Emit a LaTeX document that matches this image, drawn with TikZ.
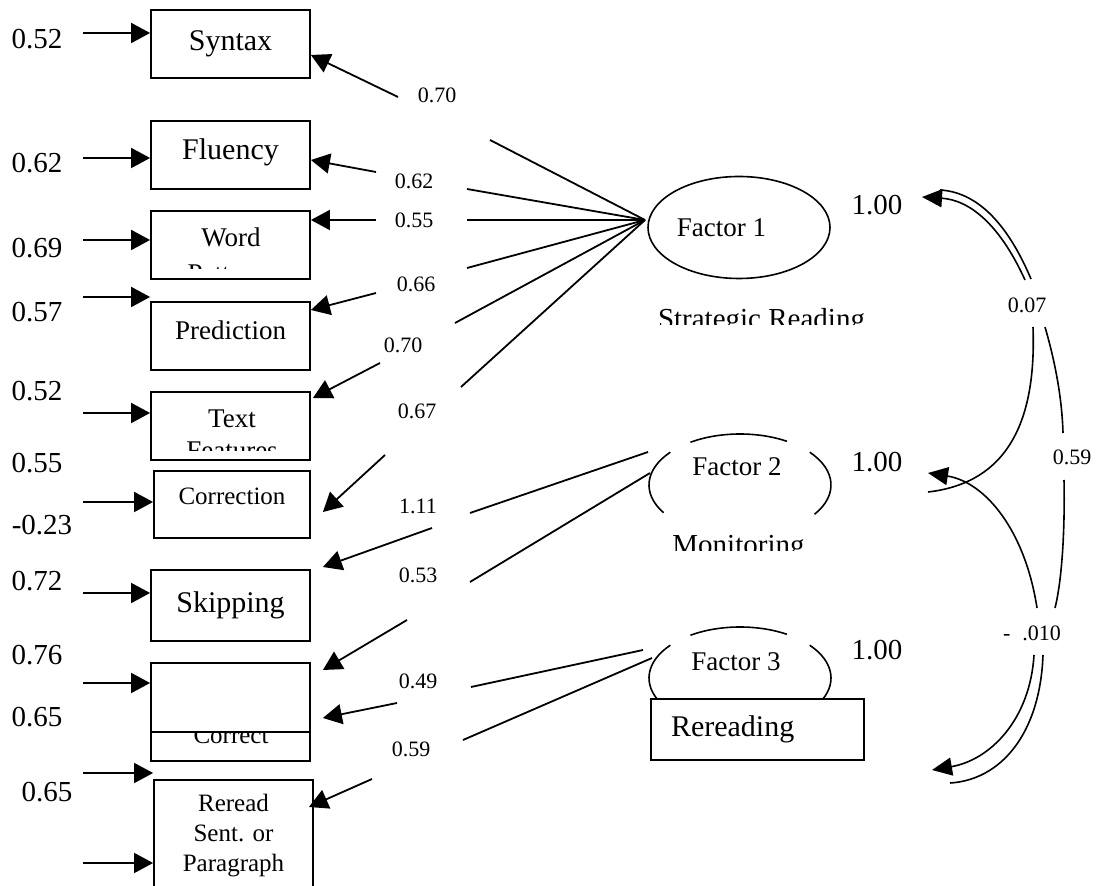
\documentclass[tikz,border=0pt]{standalone}
\usepackage{fontspec}
\setmainfont{Liberation Serif}
\usetikzlibrary{arrows.meta,shapes.geometric}

\tikzstyle{obs} = [rectangle, draw=black, line width=0.9pt, minimum width=79.5pt, minimum height=34pt, inner sep=0pt, align=center, font=\fontsize{15}{18}\selectfont]
\tikzstyle{lat} = [ellipse, minimum width=91pt, minimum height=51pt, inner sep=0pt]
\tikzstyle{num} = [inner sep=0pt, font=\fontsize{14.5}{17}\selectfont]
\tikzstyle{load} = [inner sep=0pt, font=\fontsize{11}{13}\selectfont]
\tikzstyle{lbl} = [inner sep=0pt, font=\fontsize{13.5}{16}\selectfont]
\tikzstyle{arrow} = [line width=0.9pt, -{Triangle[length=9.5pt,width=10pt]}]
\tikzstyle{link} = [line width=0.9pt]
\tikzstyle{cov} = [line width=0.8pt]
\tikzstyle{covarrow} = [line width=0.8pt, -{Triangle[length=10pt,width=9pt]}]

\begin{document}
\begin{tikzpicture}[x=0.5pt, y=-0.5pt]
	\useasboundingbox (0,0) rectangle (1097,886);

	% observed variables
	\node (syntax) [obs] at (230.5,44) {Syntax};
	\node (fluency) [obs, text depth=6pt] at (230.5,155) {Fluency};
	\node (word) [obs] at (230.5,245) {};
	\node (prediction) [obs, text depth=6pt, font=\fontsize{13.5}{16}\selectfont] at (230.5,336) {Prediction};
	\node (textfeat) [obs] at (230.5,426) {};
	\node (correction) [obs, minimum width=78pt, minimum height=33.5pt, text depth=7.8pt, font=\fontsize{12.5}{15}\selectfont] at (232,504.5) {Correction};
	\node (skipping) [obs, minimum height=35.5pt] at (230.5,605.5) {Skipping};
	\node (selfcorr) [obs, minimum height=49pt] at (230.5,712) {};
	\node (reread) [obs, minimum height=56pt, font=\fontsize{12.5}{15}\selectfont] at (233.5,836) {Reread\\Sent. or\\Paragraph};
	\draw [link] ([yshift=15pt]selfcorr.south west) -- ([yshift=15pt]selfcorr.south east);

	% texts cut by their boxes
	\begin{scope}
		\clip (word.north west) rectangle ([yshift=5.5pt]word.south east);
		\node (wordtxt) [lbl, anchor=base] at (231,247) {Word};
		\node (patterns) [lbl, anchor=base] at (231,283) {Patterns};
	\end{scope}
	\begin{scope}
		\clip (textfeat.north west) rectangle ([yshift=5pt]textfeat.south east);
		\node (texttxt) [lbl, anchor=base] at (232,428) {Text};
		\node (features) [lbl, anchor=base] at (232,460) {Features};
	\end{scope}
	\begin{scope}
		\clip ([yshift=15pt]selfcorr.south west) rectangle (selfcorr.south east);
		\node (correct) [lbl, anchor=base, font=\fontsize{12.5}{15}\selectfont] at (231,743) {Correct};
	\end{scope}

	% error terms
	\node (e1) [num] at (37,39) {0.52};
	\node (e2) [num] at (37,163) {0.62};
	\node (e3) [num] at (37,248) {0.69};
	\node (e4) [num] at (37,312) {0.57};
	\node (e5) [num] at (37,391) {0.52};
	\node (e6) [num] at (37,463) {0.55};
	\node (e7) [num] at (42,525) {-0.23};
	\node (e8) [num] at (37,581) {0.72};
	\node (e9) [num] at (37,655) {0.76};
	\node (e10) [num] at (37,717) {0.65};
	\node (e11) [num] at (47,792) {0.65};

	\coordinate (t1) at (83,33);
	\coordinate (t2) at (83,158);
	\coordinate (t3) at (83,240);
	\coordinate (t4) at (83,297);
	\coordinate (t5) at (83,413);
	\coordinate (t6) at (83,502);
	\coordinate (t7) at (83,593);
	\coordinate (t8) at (83,683);
	\coordinate (t9) at (83,773);
	\coordinate (t10) at (83,863);

	\draw [arrow] (t1) -- (t1 -| syntax.west);
	\draw [arrow] (t2) -- (t2 -| fluency.west);
	\draw [arrow] (t3) -- (t3 -| word.west);
	\draw [arrow] (t4) -- (t4 -| prediction.west);
	\draw [arrow] (t5) -- (t5 -| textfeat.west);
	\draw [arrow] (t6) -- (t6 -| correction.west);
	\draw [arrow] (t7) -- (t7 -| skipping.west);
	\draw [arrow] (t8) -- (t8 -| selfcorr.west);
	\draw [arrow] (t9) -- (t9 -| reread.west);
	\draw [arrow] (t10) -- (t10 -| reread.west);

	% latent variables
	\node (factor1) [lat, draw, line width=0.8pt] at (739,227.5) {};
	\node (f1txt) [lbl] at (721.5,228) {Factor 1};
	\begin{scope}
		\clip (640,290) rectangle (900,325);
		\node (strategic) [num, anchor=base] at (761.5,329) {Strategic Reading};
	\end{scope}

	\node (factor2) [lat] at (740,485) {};
	\draw [cov] ([shift={(59:45.5pt and 25.5pt)}]factor2.center) arc[start angle=59, end angle=123, x radius=45.5pt, y radius=25.5pt];
	\draw [cov] ([shift={(140:45.5pt and 25.5pt)}]factor2.center) arc[start angle=140, end angle=213, x radius=45.5pt, y radius=25.5pt];
	\draw [cov] ([shift={(40:45.5pt and 25.5pt)}]factor2.center) arc[start angle=40, end angle=-35, x radius=45.5pt, y radius=25.5pt];
	\node (f2txt) [lbl] at (737,467) {Factor 2};
	\begin{scope}
		\clip (640,520) rectangle (850,551);
		\node (monitoring) [num, anchor=base] at (738.5,555) {Monitoring};
	\end{scope}

	\node (factor3) [lat] at (740,678) {};
	\draw [cov] ([shift={(59:45.5pt and 25.5pt)}]factor3.center) arc[start angle=59, end angle=123, x radius=45.5pt, y radius=25.5pt];
	\draw [cov] ([shift={(140:45.5pt and 25.5pt)}]factor3.center) arc[start angle=140, end angle=210, x radius=45.5pt, y radius=25.5pt];
	\draw [cov] ([shift={(40:45.5pt and 25.5pt)}]factor3.center) arc[start angle=40, end angle=-30, x radius=45.5pt, y radius=25.5pt];
	\node (f3txt) [lbl] at (736,662) {Factor 3};
	\node (rrbox) [rectangle, draw, fill=white, line width=0.9pt, minimum width=106.5pt, minimum height=30.5pt, text width=86.5pt, align=left, inner sep=0pt, font=\fontsize{15}{18}\selectfont] at (757.5,729.5) {Rereading};

	\node (v1) [num] at (877,205) {1.00};
	\node (v2) [num] at (877,462) {1.00};
	\node (v3) [num] at (877,650) {1.00};

	% loadings
	\node (l1) [load] at (437,95) {0.70};
	\node (l2) [load] at (414,181) {0.62};
	\node (l3) [load] at (414,220) {0.55};
	\node (l4) [load] at (416,284) {0.66};
	\node (l5) [load] at (403,345) {0.70};
	\node (l6) [load] at (417,411) {0.67};
	\node (l7) [load] at (418,506) {1.11};
	\node (l8) [load] at (418,575) {0.53};
	\node (l9) [load] at (418,681) {0.49};
	\node (l10) [load] at (411,749) {0.59};

	\coordinate (f1in) at (645,220);
	\coordinate (a1) at (490,140);
	\coordinate (a2) at (467,189);
	\coordinate (a3) at (467,220);
	\coordinate (a4) at (467,268);
	\coordinate (a5) at (455,323);
	\coordinate (a6) at (461,387);
	\coordinate (a7) at (470,513);
	\coordinate (a8) at (470,582);
	\coordinate (a9) at (471,687);
	\coordinate (a10) at (463,740);
	\coordinate (f2a) at (648,452);
	\coordinate (f2b) at (650,473);
	\coordinate (f3a) at (643,650);
	\coordinate (f3b) at (652,658);

	\coordinate (b1) at (398,97);
	\coordinate (b2) at (376,172);
	\coordinate (b3) at (376,220);
	\coordinate (b4) at (376,293);
	\coordinate (b5) at (380,363);
	\coordinate (b6) at (385,455);
	\coordinate (b7) at (432,528);
	\coordinate (b8) at (407,620);
	\coordinate (b9) at (397,703);
	\coordinate (b10) at (372,779);

	\draw [link] (a1) -- (f1in);
	\draw [link] (a2) -- (f1in);
	\draw [link] (a3) -- (f1in);
	\draw [link] (a4) -- (f1in);
	\draw [link] (a5) -- (f1in);
	\draw [link] (a6) -- (f1in);
	\draw [link] (a7) -- (f2a);
	\draw [link] (a8) -- (f2b);
	\draw [link] (a9) -- (f3a);
	\draw [link] (a10) -- (f3b);

	\draw [arrow] (b1) -- ([yshift=-5.5pt]syntax.east);
	\draw [arrow] (b2) -- ([yshift=-2.5pt]fluency.east);
	\draw [arrow] (b3) -- ([yshift=12.5pt]word.east);
	\draw [arrow] (b4) -- ([yshift=13pt]prediction.east);
	\draw [arrow] (b5) -- ([xshift=1pt,yshift=14pt]textfeat.east);
	\draw [arrow] (b6) -- ([xshift=6pt,yshift=-3.75pt]correction.east);
	\draw [arrow] (b7) -- ([xshift=6pt,yshift=19.25pt]skipping.east);
	\draw [arrow] (b8) -- ([xshift=6pt,yshift=21pt]selfcorr.east);
	\draw [arrow] (b9) -- ([xshift=6pt,yshift=-3pt]selfcorr.east);
	\draw [arrow] (b10) -- ([xshift=-2.5pt,yshift=14.5pt]reread.east);

	% correlations
	\node (r1) [load] at (1027,305) {0.07};
	\node (r2) [load] at (1072,457) {0.59};
	\node (r3) [load] at (1032,633) {-\hspace{6pt}.010};

	\coordinate (c1a) at (1025,280);
	\coordinate (c1b) at (1031,279);
	\coordinate (k1a) at (922,197);
	\coordinate (k1b) at (940,190);
	\coordinate (c2s) at (1033,327);
	\coordinate (c2e) at (928,492);
	\coordinate (c3s) at (1045,327);
	\coordinate (c3e) at (1063,433);
	\coordinate (c4s) at (1064,480);
	\coordinate (c4e) at (1055,608);
	\coordinate (c5s) at (1037,608);
	\coordinate (k5) at (928,473);
	\coordinate (c6a) at (1034,655);
	\coordinate (c6b) at (1043,655);
	\coordinate (k6a) at (932,770);
	\coordinate (k6b) at (950,783);

	\draw [covarrow] (c1a) .. controls (1000,225) and (970,200) .. (k1a);
	\draw [cov] (c1b) .. controls (1006,220) and (975,192) .. (k1b);
	\draw [cov] (c2s) .. controls (1036,410) and (1015,482) .. (c2e);
	\draw [cov] (c3s) .. controls (1056,365) and (1062,400) .. (c3e);
	\draw [cov] (c4s) .. controls (1065,530) and (1062,580) .. (c4e);
	\draw [covarrow] (c5s) .. controls (1025,530) and (985,482) .. (k5);
	\draw [covarrow] (c6a) .. controls (1030,720) and (990,760) .. (k6a);
	\draw [cov] (c6b) .. controls (1040,735) and (1000,780) .. (k6b);

\end{tikzpicture}
\end{document}
